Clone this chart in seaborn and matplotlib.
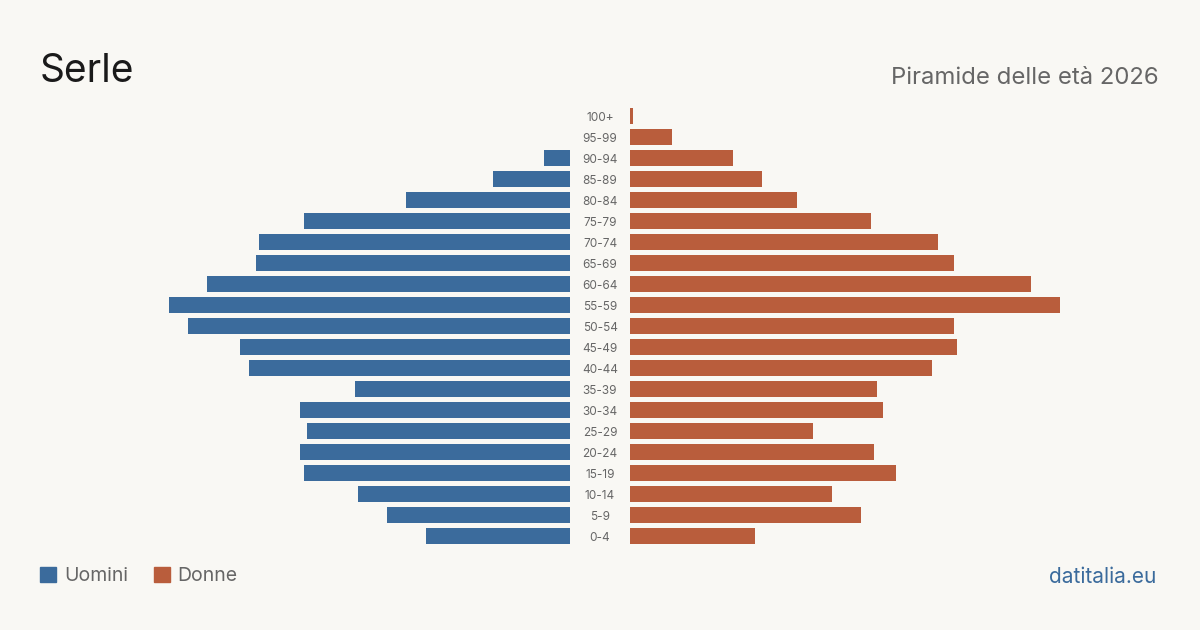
import matplotlib
matplotlib.use('Agg')
import matplotlib.pyplot as plt
from matplotlib.patches import Patch
import pandas as pd
import seaborn as sns

# ─────────────────────────────────────────────
# Data: Serle, age pyramid 2026
# ─────────────────────────────────────────────
age_groups = ['100+', '95-99', '90-94', '85-89', '80-84', '75-79', '70-74',
              '65-69', '60-64', '55-59', '50-54', '45-49', '40-44', '35-39',
              '30-34', '25-29', '20-24', '15-19', '10-14', '5-9', '0-4']
uomini = [0, 0, 8, 24, 51, 83, 97, 98, 113, 125, 119, 103, 100, 67,
          84, 82, 84, 83, 66, 57, 45]
donne = [1, 13, 32, 41, 52, 75, 96, 101, 125, 134, 101, 102, 94, 77,
         79, 57, 76, 83, 63, 72, 39]

BG = '#f9f8f4'
BLUE = '#3b6b9c'
ORANGE = '#b95d3c'
GREY = '#666666'

df = pd.DataFrame({'eta': age_groups, 'Uomini': uomini, 'Donne': donne})
xmax = max(max(uomini), max(donne))

sns.set_theme(style='white')
plt.rcParams['font.family'] = ['Inter', 'DejaVu Sans']

fig = plt.figure(figsize=(12, 6.3), dpi=100, facecolor=BG)
ax_l = fig.add_axes([0.1167, 0.1325, 0.3583, 0.70])
ax_r = fig.add_axes([0.525, 0.1325, 0.3583, 0.70])

sns.barplot(data=df, y='eta', x='Uomini', order=age_groups, color=BLUE,
            width=0.8, saturation=1, linewidth=0, ax=ax_l)
sns.barplot(data=df, y='eta', x='Donne', order=age_groups, color=ORANGE,
            width=0.8, saturation=1, linewidth=0, ax=ax_r)

ax_l.set_xlim(xmax, 0)
ax_r.set_xlim(0, xmax)
for ax in (ax_l, ax_r):
    ax.set_facecolor(BG)
    ax.set_ylim(len(age_groups) - 0.5, -0.5)
    ax.set_xlabel('')
    ax.set_ylabel('')
    ax.set_xticks([])
    ax.set_yticks([])
    for s in ax.spines.values():
        s.set_visible(False)

# age labels in the gap between the halves
for i, lab in enumerate(age_groups):
    ax_l.annotate(lab, xy=(1.0, i), xycoords=('axes fraction', 'data'),
                  xytext=(21.6, -1.2), textcoords='offset points',
                  ha='center', va='center', fontsize=8.5, color=GREY)

fig.text(40 / 1200, 1 - 82 / 630, 'Serle', fontsize=28, color='#1a1a1a',
         ha='left', va='baseline')
fig.text(1159 / 1200, 1 - 84 / 630, 'Piramide delle età 2026', fontsize=17.2,
         color=GREY, ha='right', va='baseline')
fig.text(1156 / 1200, 1 - 583 / 630, 'datitalia.eu', fontsize=15,
         color=BLUE, ha='right', va='baseline')

handles = [Patch(color=BLUE, label='Uomini'), Patch(color=ORANGE, label='Donne')]
fig.legend(handles=handles, loc='center left', bbox_to_anchor=(40 / 1200, 1 - 576 / 630),
           ncol=2, frameon=False, fontsize=14, labelcolor=GREY,
           borderpad=0, borderaxespad=0,
           handlelength=0.82, handleheight=0.82, handletextpad=0.41,
           columnspacing=1.33)

plt.savefig('out.png', dpi=100, facecolor=BG)
plt.close()
